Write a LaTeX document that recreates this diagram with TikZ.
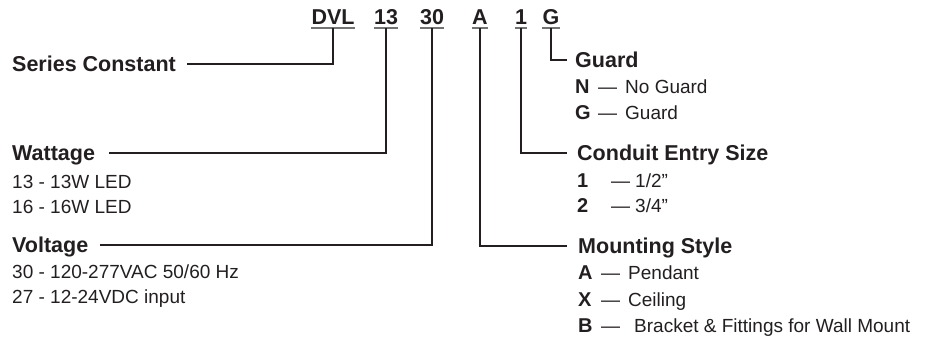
\documentclass[tikz,border=0pt]{standalone}
\usepackage{fontspec}
\setmainfont{Liberation Sans}
\usetikzlibrary{positioning}

\definecolor{ink}{RGB}{35,31,32}
\newcommand{\optline}[4]{\makebox[#1][l]{\bfseries\fontsize{20}{22}\selectfont #2}—\hspace{#3}#4}

\begin{document}
\begin{tikzpicture}[x=1pt,y=-1pt,
		code/.style={font=\fontsize{21.5}{24}\selectfont\bfseries, text=ink, inner sep=0pt, text height=15pt, text depth=3pt, anchor=base},
		head/.style={font=\fontsize{21.5}{24}\selectfont\bfseries, text=ink, inner sep=0pt, text height=14pt, text depth=0pt, anchor=base west},
		item/.style={font=\fontsize{19}{22}\selectfont, text=ink, inner sep=0pt, anchor=base west},
		lead/.style={draw=ink, line width=1.1pt},
		uline/.style={draw=black!55, line width=1.6pt}]
			\useasboundingbox (0,0) rectangle (933,337);

			% catalogue code
			\node[code] (cDVL) at (333,25) {DVL};
			\node[code] (c13) at (386,25) {13};
			\node[code] (c30) at (432,25) {30};
			\node[code] (cA) at (480,25) {A};
			\node[code] (c1) at (521,25) {1};
			\node[code] (cG) at (551,25) {G};
			\foreach \c in {cDVL,c13,c30,cA,c1,cG}
				\draw[uline] (\c.south west) -- (\c.south east);

			% left side
			\node[head] (series) at (12,71) {Series Constant};
			\node[head] (watt) at (12,160) {Wattage};
			\node[item] (w1) at (12,188) {13 - 13W LED};
			\node[item] (w2) at (12,213) {16 - 16W LED};
			\node[head] (volt) at (12,252) {Voltage};
			\node[item] (v1) at (12,278) {30 - 120-277VAC 50/60 Hz};
			\node[item] (v2) at (12,303) {27 - 12-24VDC input};

			% right side
			\node[head] (guard) at (575,67) {Guard};
			\node[item] (g1) at (575,93) {\optline{23pt}{N}{8pt}{No Guard}};
			\node[item] (g2) at (575,119) {\optline{23pt}{G}{8pt}{Guard}};
			\node[head] (conduit) at (577,160) {Conduit Entry Size};
			\node[item] (d1) at (577,187) {\optline{34pt}{1}{5pt}{1/2”}};
			\node[item] (d2) at (577,212) {\optline{34pt}{2}{5pt}{3/4”}};
			\node[head] (mount) at (578,253) {Mounting Style};
			\node[item] (m1) at (578,279) {\optline{23pt}{A}{8pt}{Pendant}};
			\node[item] (m2) at (578,306) {\optline{23pt}{X}{8pt}{Ceiling}};
			\node[item] (m3) at (578,332) {\optline{23pt}{B}{14pt}{Bracket \& Fittings for Wall Mount}};

			\draw[lead] (cDVL.south) |- ([xshift=11pt]series.east);
			\draw[lead] (c13.south) |- ([xshift=14pt]watt.east);
			\draw[lead] (c30.south) |- ([xshift=12pt]volt.east);
			\draw[lead] (cG.south) |- ([xshift=-8pt]guard.west);
			\draw[lead] (c1.south) |- ([xshift=-10pt]conduit.west);
			\draw[lead] (cA.south) |- ([xshift=-11pt]mount.west);

		\end{tikzpicture}
\end{document}
